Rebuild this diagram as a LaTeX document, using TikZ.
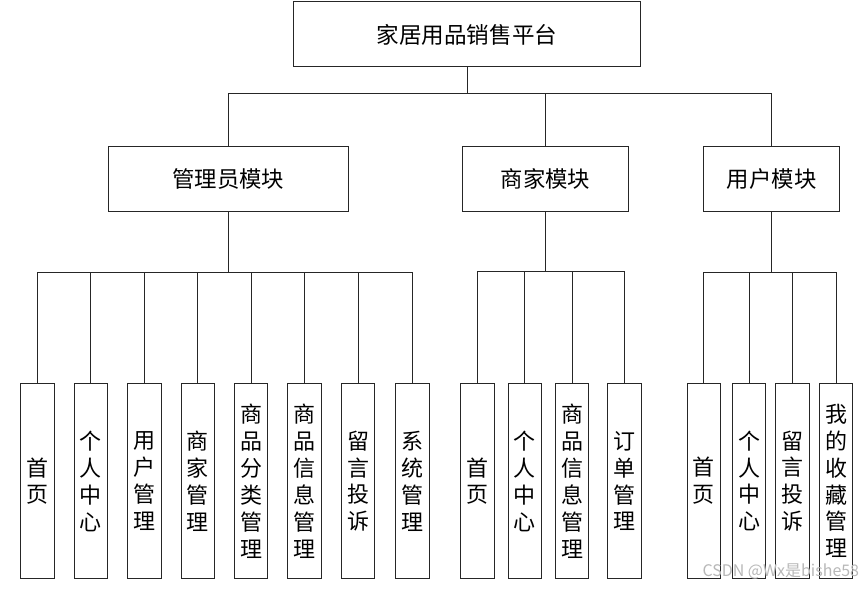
\documentclass[tikz,border=0pt]{standalone}
\usepackage{fontspec}
\setmainfont{Noto Sans CJK SC}
\begin{document}
\begin{tikzpicture}[x=1pt,y=-1pt,
  every path/.style={line width=0.9pt,draw=black!85},
  topbox/.style={draw=black!85,line width=0.9pt,minimum width=348pt,minimum height=65pt,inner sep=0pt,font=\fontsize{22.6}{26}\selectfont},
  modbox/.style={draw=black!85,line width=0.9pt,minimum height=65pt,inner sep=0pt,font=\fontsize{22.4}{26}\selectfont},
  leaf/.style={draw=black!85,line width=0.9pt,minimum width=33.5pt,minimum height=195.7pt,inner sep=0pt,align=center,font=\fontsize{22}{26.9}\selectfont},
  link/.style={draw=black!85,line width=0.9pt}]
\useasboundingbox (0,0) rectangle (864,588);
\fill[white] (0,0) rectangle (864,588);
% top
\node[topbox] (top) at (467,34) {家居用品销售平台};
% modules
\node[modbox,minimum width=240pt] (adm) at (228,178.5) {管理员模块};
\node[modbox,minimum width=167pt] (mer) at (545.5,178.3) {商家模块};
\node[modbox,minimum width=136pt] (usr) at (772,178.3) {用户模块};
\coordinate (j0) at (467,93.3);
\draw[link] (top.south) -- (j0);
\draw[link] (adm.north) |- (j0) -| (usr.north);
\draw[link] (mer.north) -- (mer.north |- j0);
% admin leaves
\foreach \n/\x/\t in {a1/37/{首\\页},a2/90.5/{个\\人\\中\\心},a3/144/{用\\户\\管\\理},a4/197.5/{商\\家\\管\\理},
  a5/251/{商\\品\\分\\类\\管\\理},a6/304.3/{商\\品\\信\\息\\管\\理},a7/358/{留\\言\\投\\诉},a8/412.5/{系\\统\\管\\理}}
  \node[leaf] (\n) at (\x,481.2) {\t};
\coordinate (ja) at (228,272.7);
\draw[link] (adm.south) -- (ja);
\draw[link] (a1.north) |- (ja) -| (a8.north);
\foreach \n in {a2,a3,a4,a5,a6,a7}
  \draw[link] (\n.north) -- (\n.north |- ja);
% merchant leaves
\foreach \n/\x/\t in {m1/477.7/{首\\页},m2/525/{个\\人\\中\\心},m3/572.3/{商\\品\\信\\息\\管\\理},m4/624.7/{订\\单\\管\\理}}
  \node[leaf] (\n) at (\x,481.2) {\t};
\coordinate (jm) at (545.5,271.3);
\draw[link] (mer.south) -- (jm);
\draw[link] (m1.north) |- (jm) -| (m4.north);
\foreach \n in {m2,m3}
  \draw[link] (\n.north) -- (\n.north |- jm);
% user leaves
\foreach \n/\x/\t in {u1/704/{首\\页},u2/749.5/{个\\人\\中\\心},u3/793/{留\\言\\投\\诉},u4/836.5/{我\\的\\收\\藏\\管\\理}}
  \node[leaf] (\n) at (\x,481) {\t};
\coordinate (ju) at (772,272.7);
\draw[link] (usr.south) -- (ju);
\draw[link] (u1.north) |- (ju) -| (u4.north);
\foreach \n in {u2,u3}
  \draw[link] (\n.north) -- (\n.north |- ju);
% watermark
\node[text=black!28,font=\fontsize{16}{18}\selectfont,inner sep=0pt,anchor=east] (wm) at (860,572) {CSDN @Wx是bishe58};
\end{tikzpicture}
\end{document}
